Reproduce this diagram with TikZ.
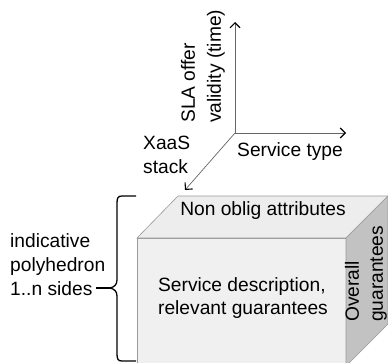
\documentclass[tikz,border=0pt]{standalone}
\usepackage{fontspec}
\setmainfont{Liberation Sans}
\usetikzlibrary{arrows.meta}
\tikzset{
  lbl/.style={font=\fontsize{19.2}{24}\selectfont, inner sep=0pt, text=black},
  cubeedge/.style={draw=black!40, line width=0.6pt},
  axis/.style={draw=black!60, line width=0.7pt,
    -{Straight Barb[length=5pt,width=10pt,line width=1.1pt,color=black]}},
  bracket/.style={draw=black, line width=1.3pt}
}
\begin{document}
\begin{tikzpicture}[x=1pt,y=-1pt]
\useasboundingbox (0,0) rectangle (388,362);
\clip (0,0) rectangle (388,362);

% axes
\coordinate (O) at (235,133);
\coordinate (up) at (235,22);
\coordinate (right) at (346,133);
\coordinate (down) at (185,190);
\draw[axis] (O) -- (up);
\draw[axis] (O) -- (right);
\draw[axis] (O) -- (down);

\node[lbl, rotate=90, align=left, anchor=west,
      font=\fontsize{19.2}{26}\selectfont] (time) at (203,123)
  {SLA offer\\validity (time)};
\node[lbl, align=left, anchor=north west] (stack) at (143,136)
  {XaaS\\stack};
\node[lbl, anchor=north west] (stype) at (237,142) {Service type};

% cube
\fill[black!6] (137,238) rectangle (346,366);
\draw[cubeedge] (137,366) -- (137,238) -- (346,238) -- (346,366);
\filldraw[fill=black!7, cubeedge] (137,238) -- (178,196) -- (388,196) -- (346,238) -- cycle;
\filldraw[fill=black!24, cubeedge] (346,238) -- (388,196) -- (388,324) -- (346,366) -- cycle;

\node[lbl] (top) at (263,211) {Non oblig attributes};
\node[lbl, align=left, font=\fontsize{19.2}{23}\selectfont] (front) at (243,298)
  {Service description,\\relevant guarantees};
\node[lbl, rotate=90, align=left, anchor=west,
      font=\fontsize{19.2}{24}\selectfont] (side) at (366,322)
  {Overall\\guarantees};

% brace
\coordinate (tip) at (110,288);
\coordinate (tail) at (96,288);
\draw[bracket] (136,196) -- (122,196) .. controls (118,196) and (117,198) .. (117,203)
  -- (117,280) .. controls (117,285) and (114,287) .. (tip)
  .. controls (114,289) and (117,291) .. (117,296)
  -- (117,354) .. controls (117,359) and (118,361) .. (122,361) -- (136,361);
\draw[bracket] (tail) -- (tip);
\node[lbl, align=left, anchor=north west] (poly) at (10,233)
  {indicative\\polyhedron\\1..n sides};
\end{tikzpicture}
\end{document}
